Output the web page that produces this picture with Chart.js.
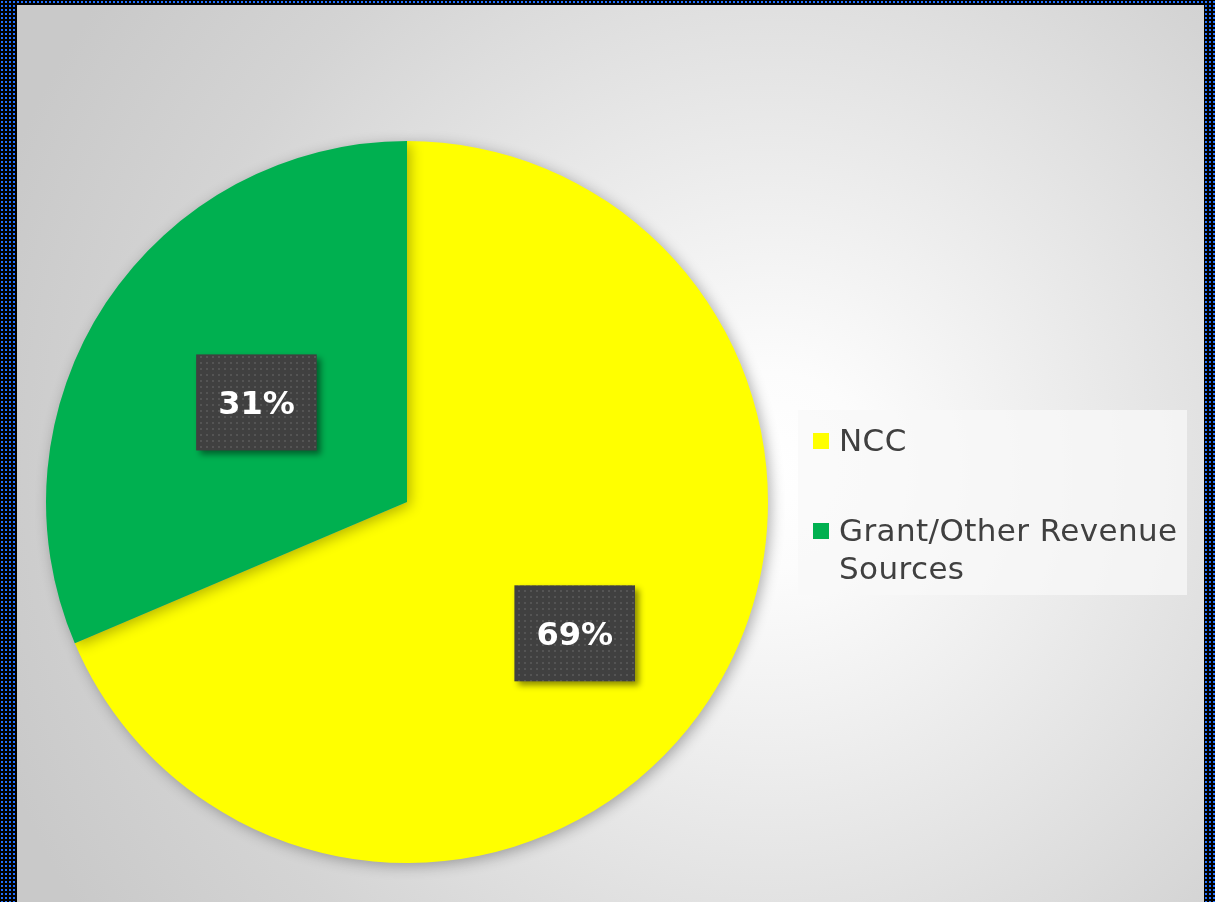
<!DOCTYPE html>
<html>
<head>
<meta charset="utf-8">
<script src="https://cdn.jsdelivr.net/npm/chart.js@4"></script>
<style>
  html, body { margin: 0; padding: 0; }
  body { width: 1215px; height: 902px; overflow: hidden; position: relative; background: #000; }
  #frame { position: absolute; left: 0; top: 0; }
  #inner {
    position: absolute; left: 17px; top: 5px; right: 11px; bottom: 0;
    background: radial-gradient(circle 820px at 753px 465px, #ffffff 0%, #fcfcfc 12%, #e7e7e7 45%, #d4d4d4 75%, #c9c9c9 100%);
  }
  #chart { position: absolute; left: 0; top: 0; }
  #legend {
    position: absolute; left: 798px; top: 410px; width: 389px; height: 185px;
    background: rgba(248, 248, 248, 0.75);
    font-family: "DejaVu Sans", sans-serif; font-size: 31px; letter-spacing: 0.4px; color: #404040;
  }
  .item { position: absolute; left: 15px; line-height: 38px; white-space: nowrap; }
  .item .sw { position: absolute; left: 0; top: 12px; width: 16px; height: 16px; }
  .item .tx { display: block; margin-left: 26px; }
</style>
</head>
<body>
<canvas id="frame" width="1215" height="902"></canvas>
<div id="inner"></div>
<canvas id="chart" width="1215" height="902"></canvas>
<div id="legend"></div>
<script>
const categories = ["NCC", "Grant/Other Revenue Sources"];
const legendLines = [["NCC"], ["Grant/Other Revenue", "Sources"]];
const values = [68.6, 31.4];
const sliceColors = ["#ffff00", "#00b050"];
const labelRadius = [0.59, 0.5];
const labelTurn = [0.08, 0];

// dotted blue frame round the slide
const fctx = document.getElementById("frame").getContext("2d");
fctx.fillStyle = "#000";
fctx.fillRect(0, 0, 1215, 902);
fctx.fillStyle = "#1f6fff";
for (let y = 1; y < 902; y += 4) {
  for (let x = 1; x < 1215; x += 4) fctx.fillRect(x, y, 2, 2);
}

// dotted fill for the label boxes
function makeDots(ctx) {
  const c = document.createElement("canvas");
  c.width = 6; c.height = 6;
  const g = c.getContext("2d");
  g.fillStyle = "#404040";
  g.fillRect(0, 0, 6, 6);
  g.fillStyle = "#545454";
  g.fillRect(2, 2, 2, 2);
  return ctx.createPattern(c, "repeat");
}

const pieShadow = {
  id: "pieShadow",
  beforeDatasetsDraw(chart) {
    const ctx = chart.ctx;
    ctx.save();
    ctx.shadowColor = "rgba(0,0,0,0.3)";
    ctx.shadowBlur = 14;
    ctx.shadowOffsetX = 3;
    ctx.shadowOffsetY = 3;
  },
  afterDatasetsDraw(chart) {
    chart.ctx.restore();
  }
};

const boxLabels = {
  id: "boxLabels",
  afterDraw(chart) {
    const ctx = chart.ctx;
    const meta = chart.getDatasetMeta(0);
    const total = values.reduce((a, b) => a + b, 0);
    const dots = makeDots(ctx);
    meta.data.forEach((arc, i) => {
      const mid = (arc.startAngle + arc.endAngle) / 2 + labelTurn[i];
      const r = arc.outerRadius * labelRadius[i];
      const x = arc.x + Math.cos(mid) * r;
      const y = arc.y + Math.sin(mid) * r;
      const text = Math.round(values[i] / total * 100) + "%";
      ctx.save();
      ctx.font = "bold 32px 'DejaVu Sans', sans-serif";
      const w = ctx.measureText(text).width + 44;
      const h = 96;
      ctx.shadowColor = "rgba(0,0,0,0.45)";
      ctx.shadowBlur = 6;
      ctx.shadowOffsetX = 4;
      ctx.shadowOffsetY = 4;
      ctx.fillStyle = dots;
      ctx.fillRect(x - w / 2, y - h / 2, w, h);
      ctx.shadowColor = "transparent";
      ctx.fillStyle = "#ffffff";
      ctx.textAlign = "center";
      ctx.textBaseline = "middle";
      ctx.fillText(text, x, y + 3);
      ctx.restore();
    });
  }
};

const ctx = document.getElementById("chart").getContext("2d");
new Chart(ctx, {
  type: "pie",
  data: {
    labels: categories,
    datasets: [{
      data: values,
      backgroundColor: sliceColors,
      borderWidth: 0
    }]
  },
  options: {
    responsive: false,
    animation: false,
    layout: { padding: { left: 46, top: 141, right: 447, bottom: 39 } },
    plugins: {
      legend: { display: false },
      tooltip: { enabled: false }
    }
  },
  plugins: [pieShadow, boxLabels]
});

// legend built from the same arrays
const legend = document.getElementById("legend");
const itemTops = [11, 101];
categories.forEach((c, i) => {
  const item = document.createElement("div");
  item.className = "item";
  item.style.top = itemTops[i] + "px";
  item.innerHTML = `<span class="sw" style="background:${sliceColors[i]}"></span>` +
    legendLines[i].map(l => `<span class="tx">${l}</span>`).join("");
  legend.appendChild(item);
});
</script>
</body>
</html>
